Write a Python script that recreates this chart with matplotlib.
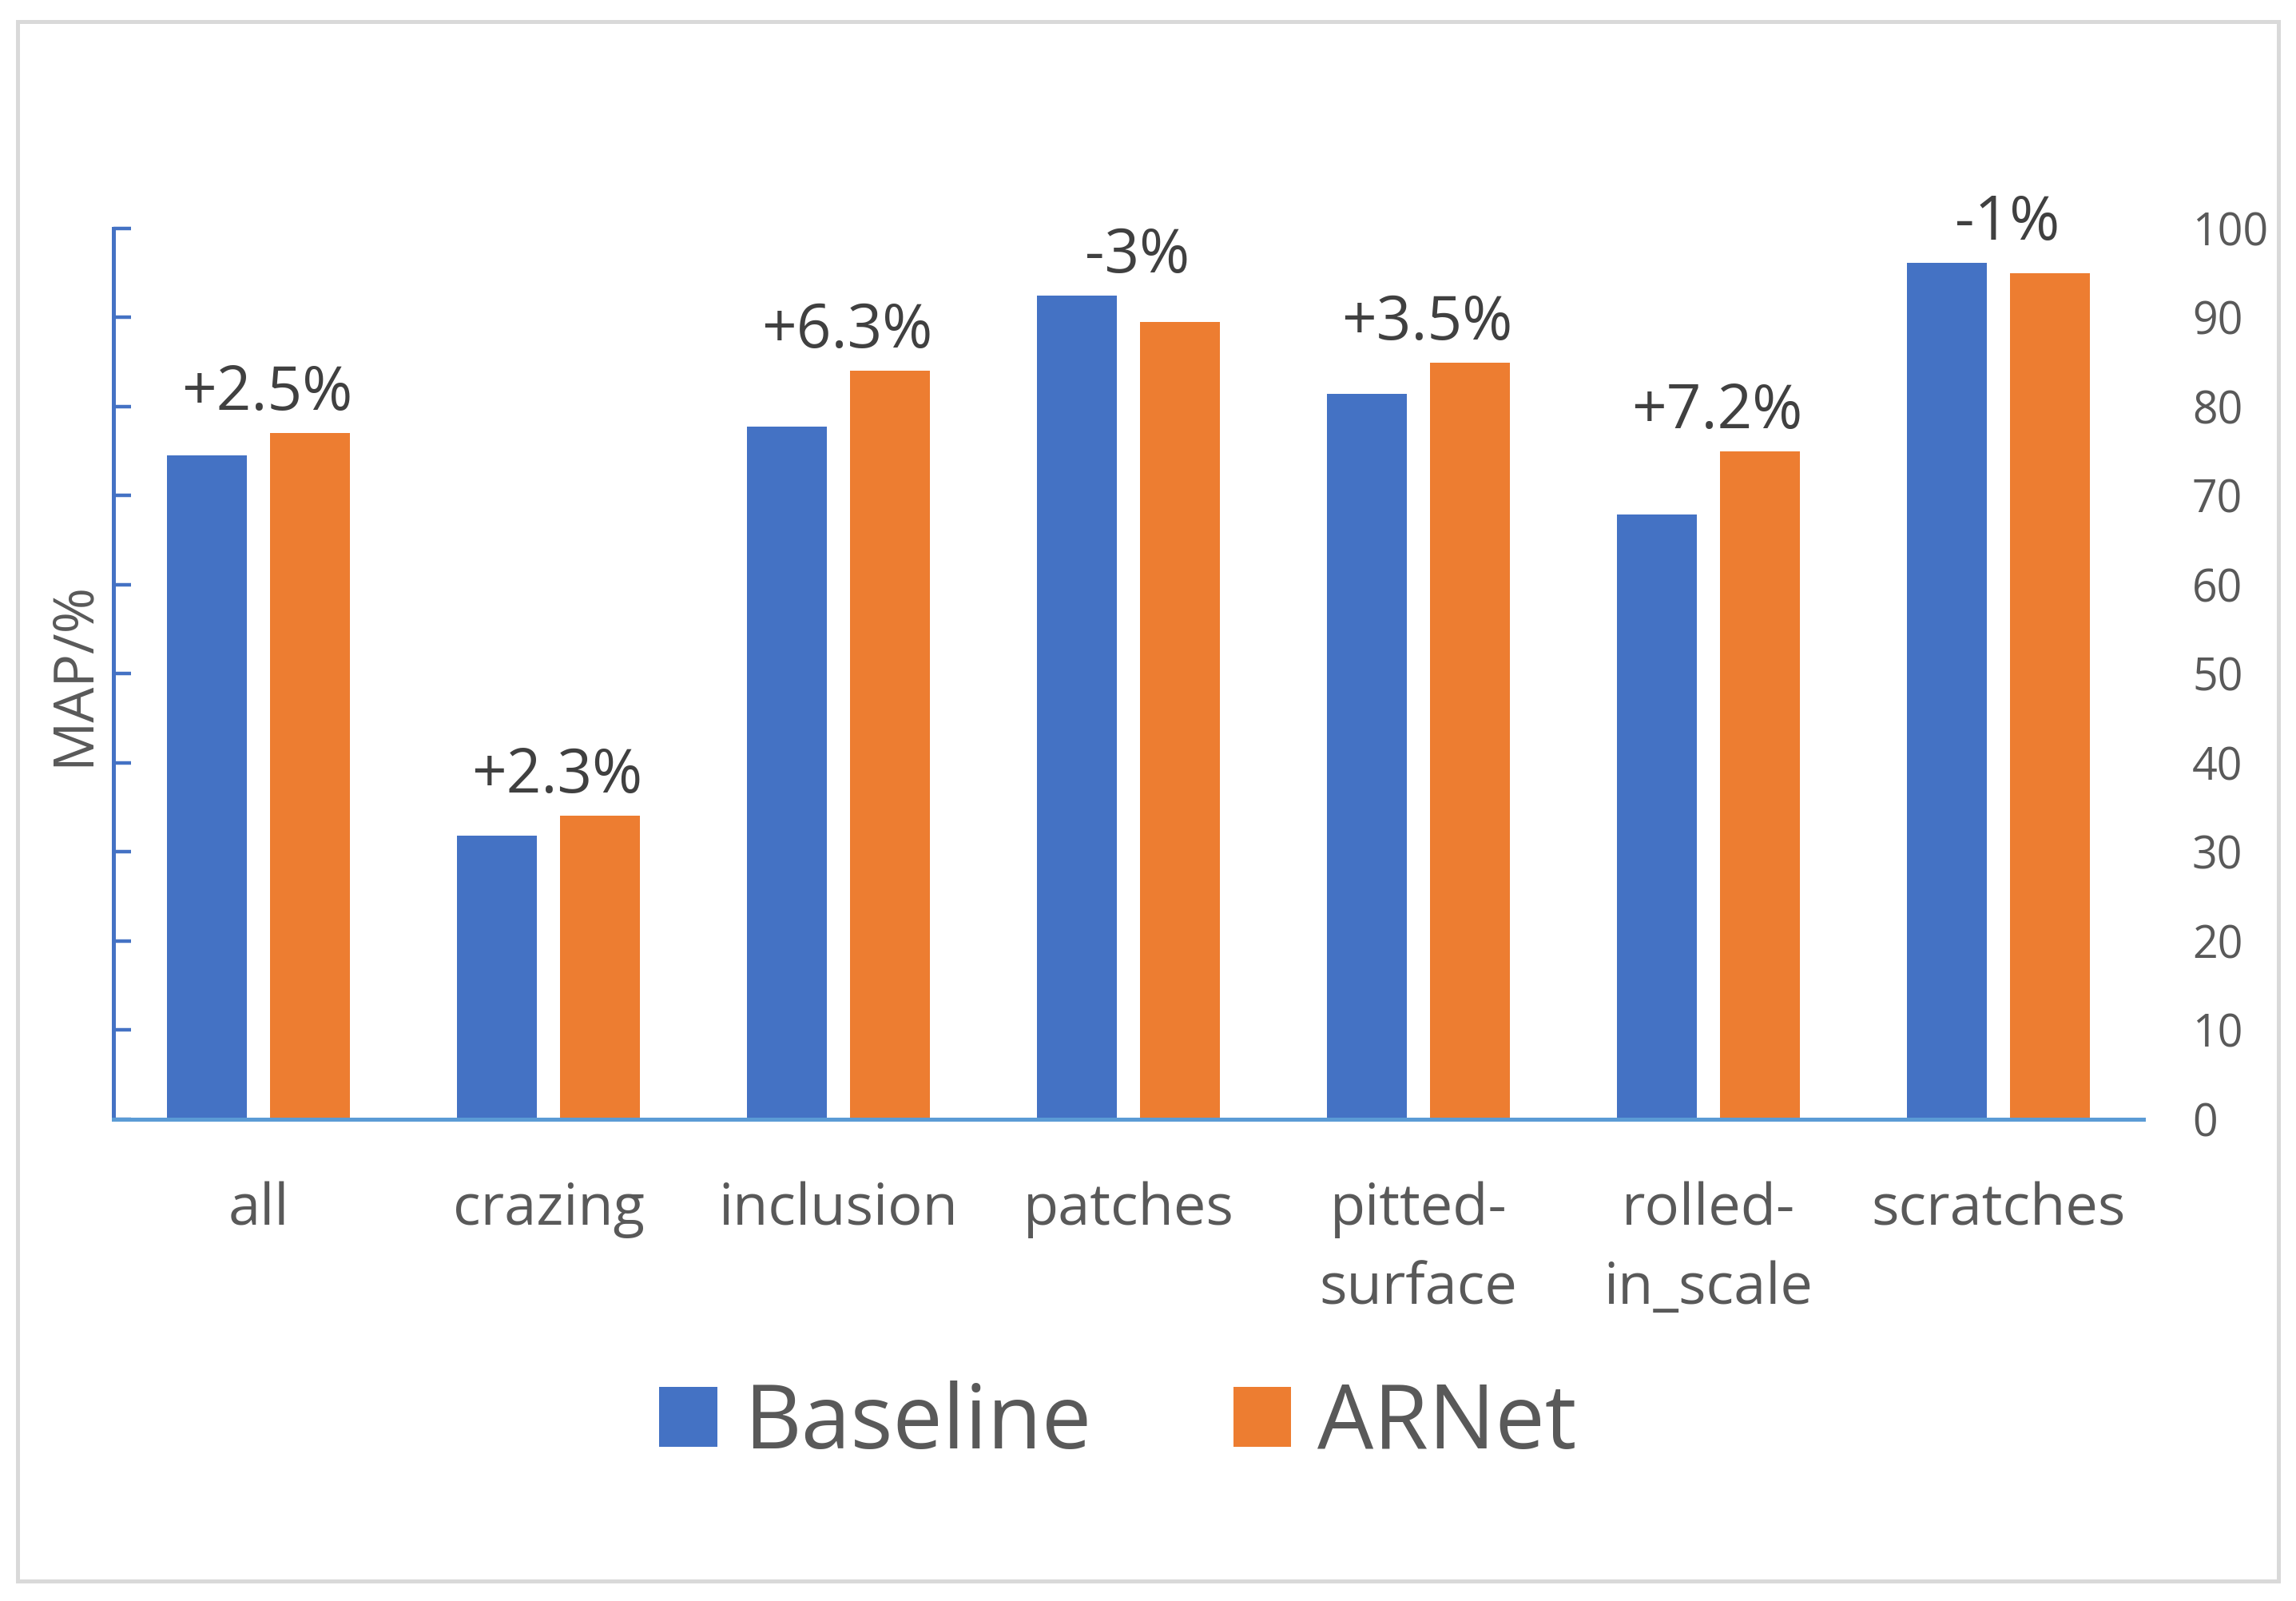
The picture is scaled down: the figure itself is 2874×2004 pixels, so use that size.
import numpy as np
import matplotlib.pyplot as plt
from matplotlib.patches import Rectangle

plt.rcParams['font.family'] = ['Open Sans', 'DejaVu Sans']

# data
categories = ['all', 'crazing', 'inclusion', 'patches', 'pitted-\nsurface', 'rolled-\nin_scale', 'scratches']
baseline = [74.5, 31.8, 77.8, 92.5, 81.4, 67.9, 96.1]
arnet = [77.0, 34.1, 84.0, 89.5, 84.9, 75.0, 95.0]
gains = ['+2.5%', '+2.3%', '+6.3%', '-3%', '+3.5%', '+7.2%', '-1%']
series_names = ['Baseline', 'ARNet']

BLUE = '#4472C4'
ORANGE = '#ED7D31'
GRAY = '#595959'

fig = plt.figure(figsize=(14.37, 10.02), dpi=200)
ax = fig.add_axes([0.0494, 0.3009, 0.8841, 0.5564])

x = np.arange(len(categories))
w = 0.275
off = 0.177
ax.bar(x - off, baseline, w, color=BLUE, label=series_names[0])
ax.bar(x + off, arnet, w, color=ORANGE, label=series_names[1])

for i, g in enumerate(gains):
    top = max(baseline[i], arnet[i])
    ax.text(x[i] + 0.03, top + 2.6, g, ha='center', va='baseline',
            fontsize=27.5, color='#404040')

ax.set_xlim(-0.5, len(categories) - 0.5)
ax.set_ylim(0, 100)
ax.set_xticks(x)
ax.set_xticklabels(categories, fontsize=26, color=GRAY, linespacing=1.5)
ax.tick_params(axis='x', length=0, pad=28)

# left axis: blue spine with inward ticks, no labels
ax.set_yticks(np.arange(0, 101, 10))
ax.tick_params(axis='y', direction='in', length=8, width=1.6, color=BLUE,
               labelleft=False)
ax.set_ylabel('MAP/%', fontsize=25, color=GRAY, labelpad=5)

# right axis carries the numbers
ax2 = ax.twinx()
ax2.set_ylim(0, 100)
ax2.set_yticks(np.arange(0, 101, 10))
ax2.tick_params(axis='y', length=0, pad=22, labelsize=20, labelcolor=GRAY)
for s in ax2.spines.values():
    s.set_visible(False)

for s in ['top', 'right']:
    ax.spines[s].set_visible(False)
ax.spines['left'].set_color(BLUE)
ax.spines['left'].set_linewidth(1.8)
ax.spines['bottom'].set_color('#5B9BD5')
ax.spines['bottom'].set_linewidth(1.8)

fig.legend(loc='center', bbox_to_anchor=(0.487, 0.11), ncol=2, frameon=False,
           fontsize=40, labelcolor=GRAY, handlelength=0.65, handleheight=0.65,
           handletextpad=0.3, columnspacing=1.6)

# light gray frame around the whole chart
fig.patches.append(Rectangle((0.0075, 0.0125), 0.9848, 0.9738, transform=fig.transFigure,
                             fill=False, edgecolor='#D9D9D9', linewidth=1.8))

fig.savefig('out.png', dpi=200, facecolor='white')
